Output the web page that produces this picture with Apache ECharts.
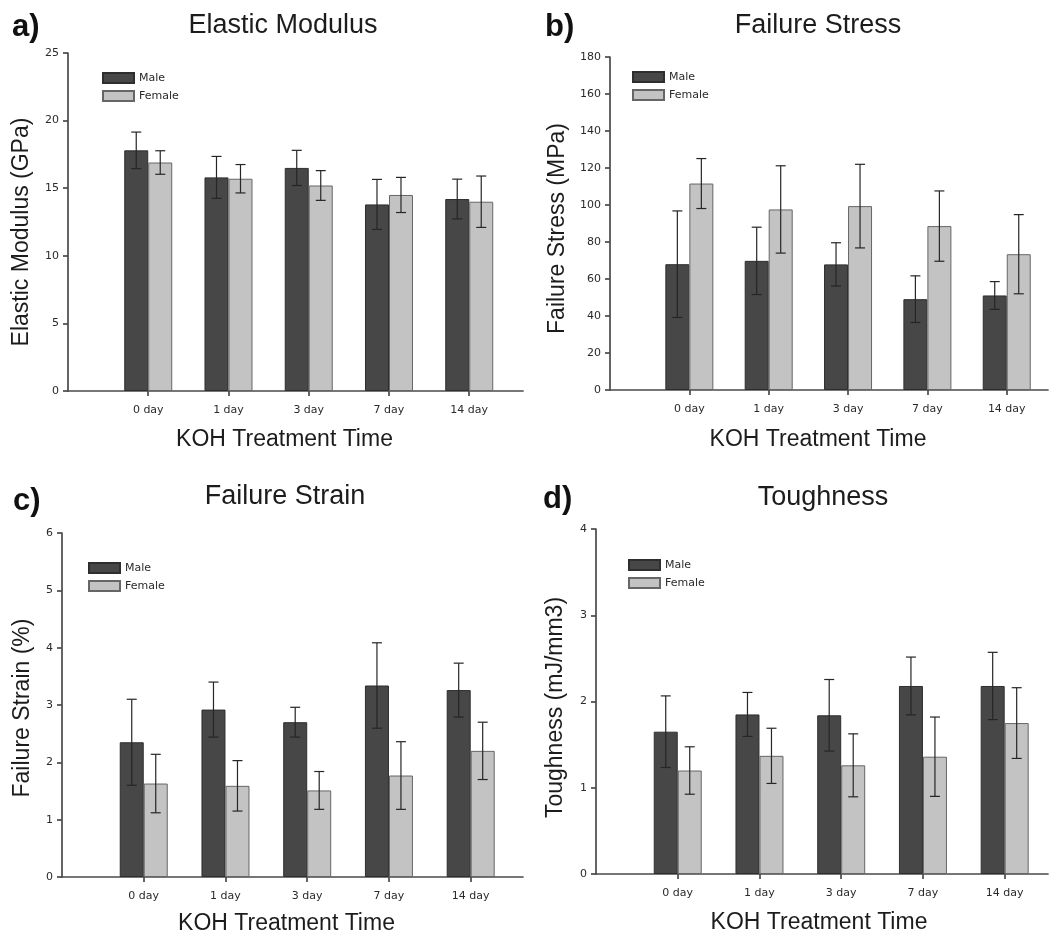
<!DOCTYPE html>
<html><head><meta charset="utf-8">
<script src="https://cdn.jsdelivr.net/npm/echarts@6/dist/echarts.min.js"></script>
<style>html,body{margin:0;padding:0;background:#fff}#c{width:1050px;height:935px}</style>
</head><body><div id="c"></div>
<script>
// ---------- data ----------
const categories = ['0 day', '1 day', '3 day', '7 day', '14 day'];
const seriesNames = ['Male', 'Female'];
const xAxisTitle = 'KOH Treatment Time';

const modulusMale     = [17.8, 15.8, 16.5, 13.8, 14.2];
const modulusMaleSD   = [1.35, 1.55, 1.3, 1.85, 1.47];
const modulusFemale   = [16.9, 15.7, 15.2, 14.5, 14.0];
const modulusFemaleSD = [0.87, 1.05, 1.1, 1.3, 1.9];
const modulusTicks    = [0, 25, 5];   // min, max, step

const stressMale     = [68.0, 69.8, 67.9, 49.1, 51.1];
const stressMaleSD   = [28.8, 18.2, 11.7, 12.6, 7.5];
const stressFemale   = [111.6, 97.6, 99.4, 88.6, 73.4];
const stressFemaleSD = [13.5, 23.6, 22.6, 19.0, 21.4];
const stressTicks    = [0, 180, 20];

const strainMale     = [2.35, 2.92, 2.70, 3.34, 3.26];
const strainMaleSD   = [0.75, 0.48, 0.26, 0.745, 0.47];
const strainFemale   = [1.63, 1.59, 1.51, 1.77, 2.20];
const strainFemaleSD = [0.51, 0.44, 0.33, 0.59, 0.50];
const strainTicks    = [0, 6, 1];

const toughMale     = [1.65, 1.85, 1.84, 2.18, 2.18];
const toughMaleSD   = [0.415, 0.255, 0.415, 0.335, 0.39];
const toughFemale   = [1.20, 1.37, 1.26, 1.36, 1.75];
const toughFemaleSD = [0.275, 0.32, 0.365, 0.46, 0.41];
const toughTicks    = [0, 4, 1];

// ---------- styles / layout ----------
const BAR_W = 24, CAP_W = 10;
const MALE_COLOR = '#474747', FEMALE_COLOR = '#c3c3c3';
const AXIS_COLOR = '#4a4a4a', TEXT_COLOR = '#1c1c1c', TICK_TEXT = '#2a2a2a';
const SANS = '"Liberation Sans", Arial, sans-serif';
const SMALL = '"DejaVu Sans", Verdana, sans-serif';

const panels = [
  { label: 'a)', title: 'Elastic Modulus', yName: 'Elastic Modulus (GPa)',
    male: modulusMale, maleSD: modulusMaleSD, female: modulusFemale, femaleSD: modulusFemaleSD, ticks: modulusTicks,
    grid: { left: 68, top: 53, width: 455, height: 338 }, xMax: 5.67,
    labelPos: [12, 27], titlePos: [283, 26], yNameGap: 35, yShift: 10, xNameGap: 37, xShift: 11, legendPos: [102, 72] },
  { label: 'b)', title: 'Failure Stress', yName: 'Failure Stress (MPa)',
    male: stressMale, maleSD: stressMaleSD, female: stressFemale, femaleSD: stressFemaleSD, ticks: stressTicks,
    grid: { left: 610, top: 57, width: 438, height: 333 }, xMax: 5.52,
    labelPos: [545, 27], titlePos: [818, 26], yNameGap: 41, yShift: 5, xNameGap: 38, xShift: 11, legendPos: [632, 71] },
  { label: 'c)', title: 'Failure Strain', yName: 'Failure Strain (%)',
    male: strainMale, maleSD: strainMaleSD, female: strainFemale, femaleSD: strainFemaleSD, ticks: strainTicks,
    grid: { left: 62, top: 533, width: 461, height: 344 }, xMax: 5.64,
    labelPos: [13, 501], titlePos: [285, 497], yNameGap: 28, yShift: 3, xNameGap: 35, xShift: 6, legendPos: [88, 562] },
  { label: 'd)', title: 'Toughness', yName: 'Toughness (mJ/mm3)',
    male: toughMale, maleSD: toughMaleSD, female: toughFemale, femaleSD: toughFemaleSD, ticks: toughTicks,
    grid: { left: 596, top: 529, width: 452, height: 345 }, xMax: 5.53,
    labelPos: [543, 499], titlePos: [823, 498], yNameGap: 29, yShift: 6, xNameGap: 37, xShift: 3, legendPos: [628, 559] }
];

const catPos = categories.map((c, i) => i + 1);
const axisLineStyle = { color: AXIS_COLOR, width: 1.7 };

function errRender(sign) {
  return function (params, api) {
    const x = api.value(0);
    const lo = api.coord([x, api.value(1)]);
    const hi = api.coord([x, api.value(2)]);
    const cx = lo[0] + sign * BAR_W / 2;
    const st = { stroke: '#262626', lineWidth: 1.2 };
    return { type: 'group', children: [
      { type: 'line', shape: { x1: cx, y1: lo[1], x2: cx, y2: hi[1] }, style: st },
      { type: 'line', shape: { x1: cx - CAP_W / 2, y1: hi[1], x2: cx + CAP_W / 2, y2: hi[1] }, style: st },
      { type: 'line', shape: { x1: cx - CAP_W / 2, y1: lo[1], x2: cx + CAP_W / 2, y2: lo[1] }, style: st }
    ]};
  };
}

const option = {
  animation: false,
  backgroundColor: '#fff',
  grid: panels.map(p => Object.assign({ containLabel: false, outerBoundsMode: 'none' }, p.grid)),
  xAxis: panels.map((p, i) => ({
    type: 'value', gridIndex: i, min: 0, max: p.xMax,
    axisLine: { show: true, onZero: true, lineStyle: axisLineStyle },
    axisTick: { show: true, length: 5, customValues: catPos, lineStyle: axisLineStyle },
    axisLabel: { show: true, customValues: catPos, margin: 14, fontSize: 11, fontFamily: SMALL, color: TICK_TEXT,
      formatter: v => categories[Math.round(v) - 1] || '' },
    splitLine: { show: false },
    name: xAxisTitle, nameLocation: 'middle', nameGap: p.xNameGap,
    nameTextStyle: { fontSize: 23, fontFamily: SANS, color: TEXT_COLOR, padding: [0, 2 * p.xShift, 0, 0] }
  })),
  yAxis: panels.map((p, i) => ({
    type: 'value', gridIndex: i, min: p.ticks[0], max: p.ticks[1], interval: p.ticks[2],
    axisLine: { show: true, lineStyle: axisLineStyle },
    axisTick: { show: true, length: 5, lineStyle: axisLineStyle },
    axisLabel: { show: true, margin: 9, fontSize: 11, fontFamily: SMALL, color: TICK_TEXT },
    splitLine: { show: false },
    name: p.yName, nameLocation: 'middle', nameGap: p.yNameGap,
    nameTextStyle: { fontSize: 23, fontFamily: SANS, color: TEXT_COLOR, padding: [0, 2 * p.yShift, 0, 0] }
  })),
  legend: panels.map(p => ({
    orient: 'vertical', left: p.legendPos[0], top: p.legendPos[1], padding: 0,
    data: seriesNames, icon: 'rect', itemWidth: 31, itemHeight: 10, itemGap: 6,
    selectedMode: false,
    textStyle: { fontSize: 11, fontFamily: SMALL, color: '#2a2a2a' }
  })),
  graphic: panels.flatMap(p => [
    { type: 'text', x: p.labelPos[0], y: p.labelPos[1], silent: true,
      style: { text: p.label, fontSize: 31, fontWeight: 'bold', fontFamily: SANS, fill: '#111', align: 'left', verticalAlign: 'middle' } },
    { type: 'text', x: p.titlePos[0], y: p.titlePos[1], silent: true,
      style: { text: p.title, fontSize: 27, fontFamily: SANS, fill: TEXT_COLOR, align: 'center', verticalAlign: 'middle' } }
  ]),
  series: panels.flatMap((p, i) => [
    { name: seriesNames[0], type: 'bar', xAxisIndex: i, yAxisIndex: i, barWidth: BAR_W, barGap: '0%',
      itemStyle: { color: MALE_COLOR, borderColor: '#2e2e2e', borderWidth: 1 },
      data: p.male.map((v, k) => [catPos[k], v]) },
    { name: seriesNames[1], type: 'bar', xAxisIndex: i, yAxisIndex: i, barWidth: BAR_W, barGap: '0%',
      itemStyle: { color: FEMALE_COLOR, borderColor: '#666', borderWidth: 1 },
      data: p.female.map((v, k) => [catPos[k], v]) },
    { name: 'Male SD', type: 'custom', xAxisIndex: i, yAxisIndex: i, z: 5, silent: true,
      renderItem: errRender(-1), encode: { x: 0, y: [1, 2] },
      data: p.male.map((v, k) => [catPos[k], v - p.maleSD[k], v + p.maleSD[k]]) },
    { name: 'Female SD', type: 'custom', xAxisIndex: i, yAxisIndex: i, z: 5, silent: true,
      renderItem: errRender(1), encode: { x: 0, y: [1, 2] },
      data: p.female.map((v, k) => [catPos[k], v - p.femaleSD[k], v + p.femaleSD[k]]) }
  ])
};

const chart = echarts.init(document.getElementById('c'), null, { renderer: 'canvas' });
chart.setOption(option);
</script>
</body></html>
